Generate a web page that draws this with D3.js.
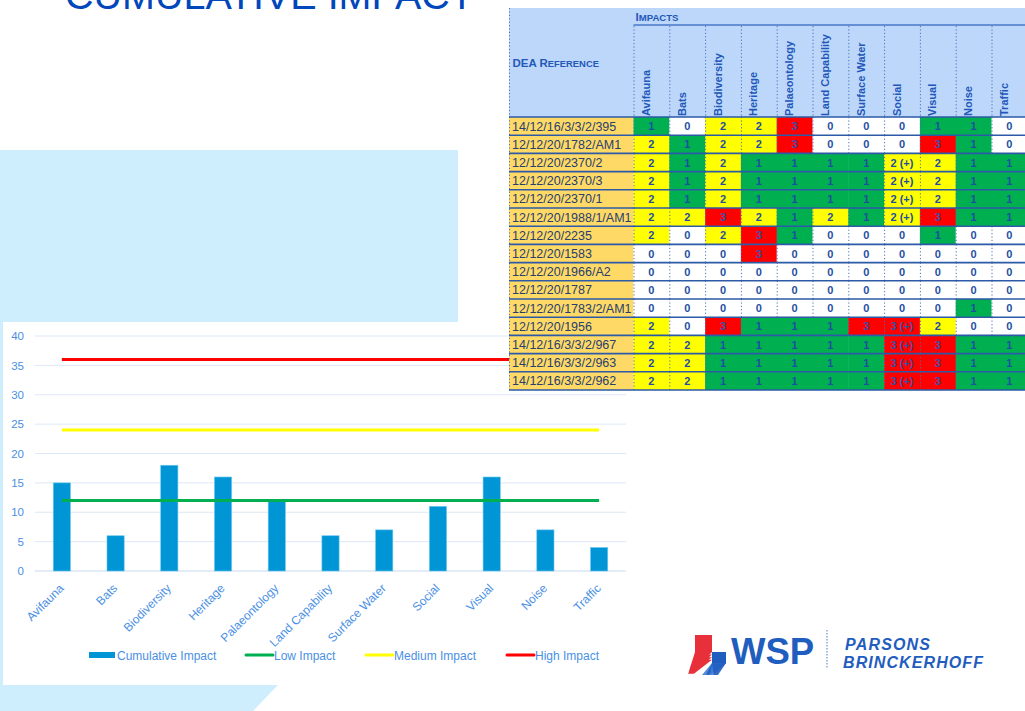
<!DOCTYPE html>
<html>
<head>
<meta charset="utf-8">
<script src="https://cdn.jsdelivr.net/npm/d3@7"></script>
<style>
  html, body { margin: 0; padding: 0; background: #ffffff; }
  svg { display: block; font-family: "Liberation Sans", Arial, sans-serif; }
</style>
</head>
<body>
<svg id="slide" width="1025" height="711"></svg>
<script>
// ---- Chart data ----
const categories = ["Avifauna", "Bats", "Biodiversity", "Heritage", "Palaeontology",
  "Land Capability", "Surface Water", "Social", "Visual", "Noise", "Traffic"];
const cumulativeImpact = [15, 6, 18, 16, 12, 6, 7, 11, 16, 7, 4];
const lowImpact    = [12, 12, 12, 12, 12, 12, 12, 12, 12, 12, 12];
const mediumImpact = [24, 24, 24, 24, 24, 24, 24, 24, 24, 24, 24];
const highImpact   = [36, 36, 36, 36, 36, 36, 36, 36, 36, 36, 36];
const yTicks = [0, 5, 10, 15, 20, 25, 30, 35, 40];

// ---- Table data ----
const impactColumns = ["Avifauna", "Bats", "Biodiversity", "Heritage", "Palaeontology",
  "Land Capability", "Surface Water", "Social", "Visual", "Noise", "Traffic"];
const deaReferences = [
  "14/12/16/3/3/2/395", "12/12/20/1782/AM1", "12/12/20/2370/2", "12/12/20/2370/3",
  "12/12/20/2370/1", "12/12/20/1988/1/AM1", "12/12/20/2235", "12/12/20/1583",
  "12/12/20/1966/A2", "12/12/20/1787", "12/12/20/1783/2/AM1", "12/12/20/1956",
  "14/12/16/3/3/2/967", "14/12/16/3/3/2/963", "14/12/16/3/3/2/962"];
const impactRatings = [
  ["1", "0", "2", "2", "3", "0", "0", "0", "1", "1", "0"],
  ["2", "1", "2", "2", "3", "0", "0", "0", "3", "1", "0"],
  ["2", "1", "2", "1", "1", "1", "1", "2 (+)", "2", "1", "1"],
  ["2", "1", "2", "1", "1", "1", "1", "2 (+)", "2", "1", "1"],
  ["2", "1", "2", "1", "1", "1", "1", "2 (+)", "2", "1", "1"],
  ["2", "2", "3", "2", "1", "2", "1", "2 (+)", "3", "1", "1"],
  ["2", "0", "2", "3", "1", "0", "0", "0", "1", "0", "0"],
  ["0", "0", "0", "3", "0", "0", "0", "0", "0", "0", "0"],
  ["0", "0", "0", "0", "0", "0", "0", "0", "0", "0", "0"],
  ["0", "0", "0", "0", "0", "0", "0", "0", "0", "0", "0"],
  ["0", "0", "0", "0", "0", "0", "0", "0", "0", "1", "0"],
  ["2", "0", "3", "1", "1", "1", "3", "3 (+)", "2", "0", "0"],
  ["2", "2", "1", "1", "1", "1", "1", "3 (+)", "3", "1", "1"],
  ["2", "2", "1", "1", "1", "1", "1", "3 (+)", "3", "1", "1"],
  ["2", "2", "1", "1", "1", "1", "1", "3 (+)", "3", "1", "1"]];

const svg = d3.select("#slide");
const W = 1025, H = 711;

// ---- Slide background shapes ----
const panelBlue = "#CFEEFD";
svg.append("rect").attr("x", 0).attr("y", 150).attr("width", 458).attr("height", 172).attr("fill", panelBlue);
svg.append("rect").attr("x", 0).attr("y", 322).attr("width", 3).attr("height", 363).attr("fill", panelBlue);
svg.append("path").attr("d", "M0,685 L278,685 L253,711 L0,711 Z").attr("fill", panelBlue);

// Title
svg.append("text")
  .attr("x", 65).attr("y", 9)
  .attr("font-size", 39.5)
  .attr("fill", "#0047BB")
  .text("CUMULATIVE IMPACT");

// ---- Bar / line chart ----
const plot = { left: 35, right: 626, top: 336, bottom: 571 };
const x = d3.scaleBand().domain(categories).range([plot.left, plot.right]).paddingInner(0.68).paddingOuter(0.34);
const xc = d3.scalePoint().domain(categories).range([plot.left, plot.right]).padding(0.5);
const y = d3.scaleLinear().domain([0, 40]).range([plot.bottom, plot.top]);
const axisBlue = "#4A8FE4";

const chart = svg.append("g");

// gridlines
chart.append("g").selectAll("line").data(yTicks).join("line")
  .attr("x1", plot.left).attr("x2", plot.right)
  .attr("y1", d => y(d)).attr("y2", d => y(d))
  .attr("stroke", d => d === 0 ? "#C8D8EE" : "#DDE8F6").attr("stroke-width", 1);

// y axis labels
const yAxis = d3.axisLeft(y).tickValues(yTicks).tickSize(0).tickPadding(0);
const yg = chart.append("g").attr("transform", `translate(${plot.left - 11},0)`).call(yAxis);
yg.select(".domain").remove();
yg.selectAll("text").attr("fill", axisBlue).attr("font-size", 11.5)
  .attr("font-family", "Liberation Sans, Arial, sans-serif");

// x axis labels
const xAxis = d3.axisBottom(xc).tickSize(0).tickPadding(0);
const xg = chart.append("g").attr("transform", `translate(0,${plot.bottom})`).call(xAxis);
xg.select(".domain").remove();
xg.selectAll("text")
  .attr("fill", axisBlue).attr("font-size", 12)
  .attr("font-family", "Liberation Sans, Arial, sans-serif")
  .attr("text-anchor", "end").attr("dy", null).attr("y", 0)
  .attr("transform", "translate(2,18) rotate(-45)");

// bars
chart.append("g").selectAll("rect").data(categories).join("rect")
  .attr("x", d => x(d))
  .attr("width", x.bandwidth())
  .attr("y", (d, i) => y(cumulativeImpact[i]))
  .attr("height", (d, i) => y(0) - y(cumulativeImpact[i]))
  .attr("fill", "#0096D6")
  .attr("stroke", "#6CC6EE").attr("stroke-width", 0.6);

// threshold lines
const seriesLines = [
  { values: lowImpact, color: "#00B050" },
  { values: mediumImpact, color: "#FFFF00" },
  { values: highImpact, color: "#FF0000" }];
const lineGen = d3.line().x((d, i) => xc(categories[i])).y(d => y(d));
seriesLines.forEach(s => {
  chart.append("path").attr("d", lineGen(s.values))
    .attr("fill", "none").attr("stroke", s.color).attr("stroke-width", 3);
});

// legend
const legend = svg.append("g").attr("font-size", 12).attr("fill", axisBlue);
const legendItems = [
  { label: "Cumulative Impact", color: "#0096D6", x: 89, bar: true },
  { label: "Low Impact", color: "#00B050", x: 246 },
  { label: "Medium Impact", color: "#FFFF00", x: 366 },
  { label: "High Impact", color: "#FF0000", x: 507 }];
legendItems.forEach(it => {
  if (it.bar) {
    legend.append("rect").attr("x", it.x).attr("y", 652).attr("width", 26).attr("height", 6).attr("fill", it.color);
  } else {
    legend.append("line").attr("x1", it.x).attr("x2", it.x + 27).attr("y1", 655).attr("y2", 655)
      .attr("stroke", it.color).attr("stroke-width", 3).attr("stroke-linecap", "round");
  }
  legend.append("text").attr("x", it.x + 28).attr("y", 659.5).attr("fill", axisBlue).text(it.label);
});

// ---- Impact table ----
const tbl = svg.append("g");
const tLeft = 509, refRight = 633.5, colStep = 35.8;
const headTop = 8, headMid = 25, headBottom = 117, rowH = 18.2;
const colX = d3.scaleBand().domain(impactColumns).range([refRight, refRight + colStep * impactColumns.length]);
const rowY = d3.scaleBand().domain(deaReferences).range([headBottom, headBottom + rowH * deaReferences.length]);
const tableBottom = headBottom + rowH * deaReferences.length;
const navy = "#1F4EA3";
const fillFor = v => ({ "0": "#FFFFFF", "1": "#00B050", "2": "#FFFF00", "3": "#FF0000" })[v.charAt(0)];

// header background
tbl.append("rect").attr("x", tLeft).attr("y", headTop).attr("width", W - tLeft).attr("height", headBottom - headTop)
  .attr("fill", "#BDD7FA");
tbl.append("line").attr("x1", refRight).attr("x2", W).attr("y1", headMid).attr("y2", headMid)
  .attr("stroke", "#4A78C8").attr("stroke-width", 1.5);

// header text
const impactsLabel = tbl.append("text").attr("x", refRight + 2).attr("y", 20.7)
  .attr("font-weight", "bold").attr("fill", "#2358B8");
impactsLabel.append("tspan").attr("font-size", 11.5).text("I");
impactsLabel.append("tspan").attr("font-size", 9.6).text("MPACTS");
const deaLabel = tbl.append("text").attr("x", tLeft + 3.5).attr("y", 66.7)
  .attr("font-weight", "bold").attr("fill", "#2358B8");
deaLabel.append("tspan").attr("font-size", 11.5).text("DEA R");
deaLabel.append("tspan").attr("font-size", 9.4).text("EFERENCE");

tbl.append("g").selectAll("text").data(impactColumns).join("text")
  .attr("transform", d => `translate(${colX(d) + 16.5},${headBottom - 1}) rotate(-90)`)
  .attr("font-size", 11).attr("font-weight", "bold").attr("fill", "#2358B8")
  .text(d => d);

// reference column
tbl.append("g").selectAll("rect").data(deaReferences).join("rect")
  .attr("x", tLeft).attr("y", d => rowY(d)).attr("width", refRight - tLeft).attr("height", rowY.bandwidth())
  .attr("fill", "#FFD966");
tbl.append("g").selectAll("text").data(deaReferences).join("text")
  .attr("x", tLeft + 3).attr("y", d => rowY(d) + rowY.bandwidth() / 2 + 4.5)
  .attr("font-size", 12.5).attr("fill", "#26406F")
  .text(d => d);

// rating cells
const cells = [];
deaReferences.forEach((ref, r) => impactColumns.forEach((col, c) => {
  cells.push({ ref, col, v: impactRatings[r][c], prev: c > 0 ? impactRatings[r][c - 1] : null });
}));
tbl.append("g").selectAll("rect").data(cells).join("rect")
  .attr("x", d => colX(d.col)).attr("y", d => rowY(d.ref))
  .attr("width", colX.bandwidth() + 0.5).attr("height", rowY.bandwidth())
  .attr("fill", d => fillFor(d.v));

// dotted column separators (hidden inside runs of green cells)
tbl.append("g").selectAll("line").data(cells.filter(d => !(d.v === "1" && d.prev === "1"))).join("line")
  .attr("x1", d => colX(d.col) + 0.5).attr("x2", d => colX(d.col) + 0.5)
  .attr("y1", d => rowY(d.ref)).attr("y2", d => rowY(d.ref) + rowY.bandwidth())
  .attr("stroke", "#4A6FB5").attr("stroke-width", 1).attr("stroke-dasharray", "1.2,2.2");
tbl.append("g").selectAll("line").data(impactColumns).join("line")
  .attr("x1", d => colX(d) + 0.5).attr("x2", d => colX(d) + 0.5)
  .attr("y1", headMid + 1).attr("y2", headBottom)
  .attr("stroke", "#4A6FB5").attr("stroke-width", 1).attr("stroke-dasharray", "1.2,2.2");
tbl.append("line").attr("x1", tLeft + 0.5).attr("x2", tLeft + 0.5).attr("y1", headTop).attr("y2", tableBottom)
  .attr("stroke", "#4A6FB5").attr("stroke-width", 1).attr("stroke-dasharray", "1.2,2.2");

// row rules
tbl.append("g").selectAll("line").data(deaReferences.concat(["_end"])).join("line")
  .attr("x1", tLeft).attr("x2", W)
  .attr("y1", (d, i) => headBottom + i * rowH).attr("y2", (d, i) => headBottom + i * rowH)
  .attr("stroke", "#2D5AA6").attr("stroke-width", 1.6);

// rating labels
tbl.append("g").selectAll("text").data(cells).join("text")
  .attr("x", d => colX(d.col) + colX.bandwidth() / 2)
  .attr("y", d => rowY(d.ref) + rowY.bandwidth() / 2 + 4)
  .attr("text-anchor", "middle").attr("font-size", 11).attr("font-weight", "bold")
  .attr("fill", d => d.v.charAt(0) === "3" ? "#3550A8" : navy)
  .text(d => d.v);

// ---- Company mark ----
const logo = svg.append("g");
const logoBlue = "#1F5DBF";
logo.append("rect").attr("x", 695).attr("y", 635).attr("width", 17).attr("height", 17).attr("fill", "#E8303A");
logo.append("rect").attr("x", 712).attr("y", 652).attr("width", 14).attr("height", 11).attr("fill", "#1F5DBF");
[0, 1, 2, 3].forEach(i => {
  logo.append("path")
    .attr("d", `M${695 + i * 0.5},${652 + i * 2.6} L${712},${652 + i * 2.6} L${690 - i * 0.7 + 6},${668 + i * 1.9} L${690 - i * 0.7},${668 + i * 1.9} Z`)
    .attr("fill", "#E8303A");
  logo.append("path")
    .attr("d", `M712,${663 + i * 0.2} L726,${663} L${706 + i * 4},${675} L${702 + i * 4},${675} Z`)
    .attr("fill", i % 2 ? "#1F5DBF" : "#3F7ED6").attr("opacity", 0.9);
});
logo.append("text").attr("x", 731).attr("y", 663.5).attr("font-size", 36.5).attr("font-weight", "bold")
  .attr("fill", logoBlue).text("WSP");
logo.append("line").attr("x1", 827).attr("x2", 827).attr("y1", 630).attr("y2", 669)
  .attr("stroke", "#4A78C8").attr("stroke-width", 1).attr("stroke-dasharray", "1.5,1.5");
logo.append("text").attr("x", 845).attr("y", 650).attr("font-size", 16).attr("font-weight", "bold")
  .attr("font-style", "italic").attr("fill", logoBlue).attr("textLength", 85).text("PARSONS");
logo.append("text").attr("x", 843).attr("y", 667.5).attr("font-size", 16).attr("font-weight", "bold")
  .attr("font-style", "italic").attr("fill", logoBlue).attr("textLength", 140).text("BRINCKERHOFF");
</script>
</body>
</html>
